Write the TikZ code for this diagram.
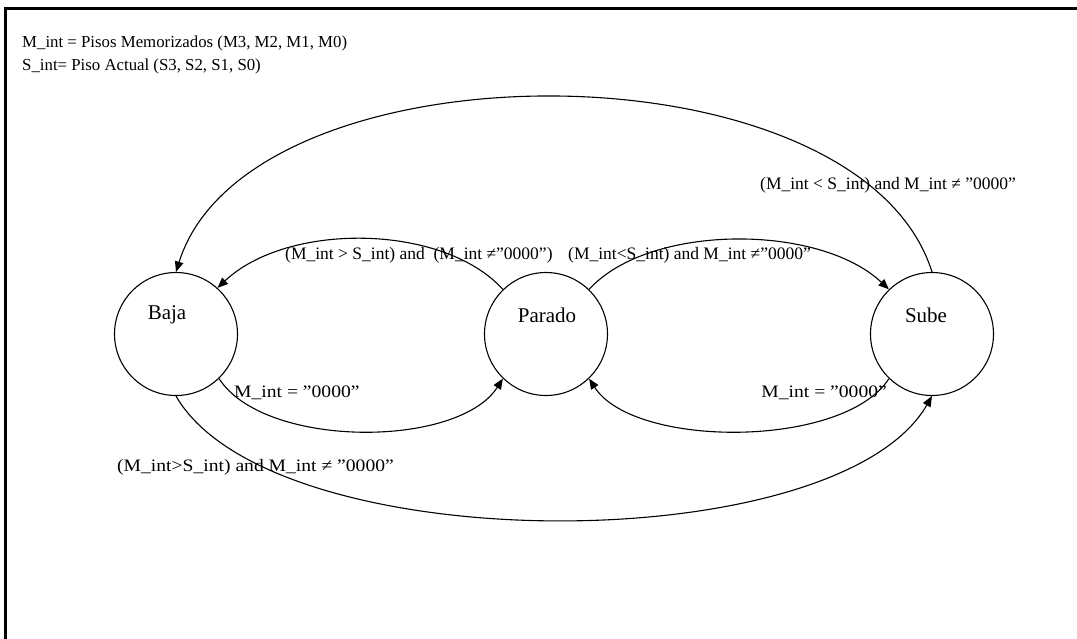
\documentclass[tikz,border=0pt]{standalone}
\usepackage{fontspec}
\setmainfont{Liberation Serif}
\newfontfamily\widefont[FakeStretch=1.12]{Liberation Serif}
\usetikzlibrary{arrows.meta}
\begin{document}
\begin{tikzpicture}[x=1pt,y=-1pt,
  state/.style={circle, draw, line width=1.1pt, minimum size=123pt, inner sep=0pt},
  stname/.style={font=\fontsize{21}{24}\selectfont, inner sep=0pt},
  lbl/.style={font=\fontsize{17.5}{20}\selectfont, inner sep=0pt, anchor=west},
  widelbl/.style={lbl, font=\widefont\fontsize{17.5}{20}\selectfont},
  legend/.style={font=\fontsize{16.8}{20}\selectfont, inner sep=0pt, anchor=west},
  arr/.style={line width=1.1pt, -{Triangle[length=10.5pt,width=8.5pt]}}]
\useasboundingbox (0,0) rectangle (1077,638);
\fill[white] (0,0) rectangle (1077,638);
% frame
\draw[line width=3pt] (5,640) -- (5,8.5) -- (1080,8.5);
% legend
\node[legend] (leg1) at (22,43) {M\_int = Pisos Memorizados (M3, M2, M1, M0)};
\node[legend] (leg2) at (22,66) {S\_int= Piso Actual (S3, S2, S1, S0)};
% states
\node[state] (baja) at (176,334) {};
\node[state] (parado) at (546,334) {};
\node[state] (sube) at (932,334) {};
\node[stname] (bajaT) at ([xshift=-9pt,yshift=19pt]baja.center) {Baja};
\node[stname] (paradoT) at ([xshift=1pt,yshift=19pt]parado.center) {Parado};
\node[stname] (subeT) at ([xshift=-6pt,yshift=19pt]sube.center) {Sube};
% transitions
\draw[arr] (sube.90) .. controls +(-73,-233) and +(73,-233) .. (baja.90);
\draw[arr] (parado.134) .. controls +(-60,-66) and +(70,-66) .. (baja.48);
\draw[arr] (parado.46) .. controls +(60,-66) and +(-70,-66) .. (sube.134);
\draw[arr] (baja.-46) .. controls +(45,70) and +(-45,70) .. (parado.-134);
\draw[arr] (sube.-134) .. controls +(-45,70) and +(45,70) .. (parado.-46);
\draw[arr] (baja.-90) .. controls +(95,165) and +(-95,165) .. (sube.-90);
% transition labels
\node[lbl] (t1) at (760,185) {(M\_int < S\_int) and M\_int ≠ ”0000”};
\node[lbl] (t2) at (285,255) {(M\_int > S\_int) and\ \ (M\_int ≠”0000”)};
\node[lbl] (t3) at (568,255) {(M\_int<S\_int) and M\_int ≠”0000”};
\node[widelbl] (t4) at (234,393) {M\_int = ”0000”};
\node[widelbl,anchor=east] (t5) at (887,393) {M\_int = ”0000”};
\node[widelbl] (t6) at (117,467) {(M\_int>S\_int) and M\_int ≠ ”0000”};
\end{tikzpicture}
\end{document}
